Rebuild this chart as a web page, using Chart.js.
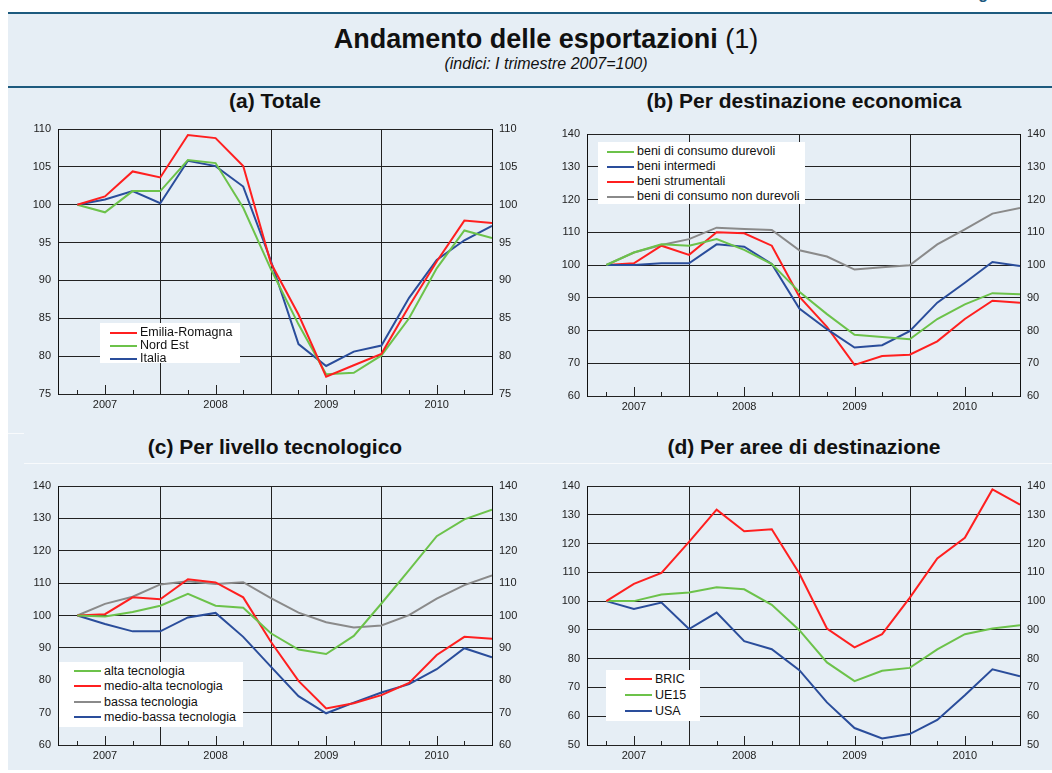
<!DOCTYPE html>
<html>
<head>
<meta charset="utf-8">
<script src="https://cdn.jsdelivr.net/npm/chart.js@4.4.1/dist/chart.umd.min.js"></script>
<style>
body { margin: 0; width: 1052px; height: 773px; background: #fff; position: relative; overflow: hidden;
       font-family: "Liberation Sans", Arial, sans-serif; color: #111; }
#bg { position: absolute; left: 8px; top: 14px; right: 0; bottom: 3px; background: #e6eef5; }
.rule { position: absolute; left: 8px; right: 0; height: 2px; background: #1d5a7e; }
.faint { position: absolute; height: 1px; background: rgba(255,255,255,0.7); }
#fig { position: absolute; left: 964px; top: -15px; font-weight: bold; font-size: 16px; line-height: 18px; color: #1d5a7e; }
#title { position: absolute; left: 40px; right: 0; top: 24px; text-align: center; font-size: 27px; font-weight: bold; }
#title span { font-weight: normal; }
#subtitle { position: absolute; left: 40px; right: 0; top: 55px; text-align: center; font-size: 16px; font-style: italic; }
.ptitle { position: absolute; width: 434px; text-align: center; font-size: 21px; font-weight: bold; }
canvas { position: absolute; }
.legend { position: absolute; background: #fff; font-size: 12.5px; line-height: 1; box-sizing: border-box; }
.legend div { display: flex; align-items: center; white-space: nowrap; }
.legend i { display: inline-block; width: 27px; height: 2px; margin-right: 3px; }
</style>
</head>
<body>
<div id="bg"></div>
<div id="fig">Figura</div>
<div class="rule" style="top:12px"></div>
<div class="rule" style="top:86px"></div>
<div id="title">Andamento delle esportazioni <span>(1)</span></div>
<div id="subtitle">(indici: I trimestre 2007=100)</div>
<div class="faint" style="left:8px;width:16px;top:433px"></div>
<div class="faint" style="left:24px;right:0;top:463px"></div>

<div class="ptitle" style="left:58px;top:89px">(a) Totale</div>
<div class="ptitle" style="left:587px;top:89px">(b) Per destinazione economica</div>
<div class="ptitle" style="left:58px;top:435px">(c) Per livello tecnologico</div>
<div class="ptitle" style="left:587px;top:435px">(d) Per aree di destinazione</div>

<canvas id="chartA" width="530" height="310" style="left:0;top:110px"></canvas>
<canvas id="chartB" width="522" height="310" style="left:530px;top:110px"></canvas>
<canvas id="chartC" width="530" height="313" style="left:0;top:460px"></canvas>
<canvas id="chartD" width="522" height="313" style="left:530px;top:460px"></canvas>

<div class="legend" id="legA" style="left:100px;top:323px;width:140px;height:40px;padding-left:10px;padding-top:3px"></div>
<div class="legend" id="legB" style="left:598px;top:142px;width:207px;height:62px;padding-left:9px;padding-top:2px"></div>
<div class="legend" id="legC" style="left:59px;top:662px;width:184px;height:65px;padding-left:15px;padding-top:1px"></div>
<div class="legend" id="legD" style="left:606px;top:670px;width:94px;height:51px;padding-left:19px;padding-top:1px"></div>

<script>
// quarters 2007 Q1 .. 2010 Q4
const quarters = ['2007 T1', '2007 T2', '2007 T3', '2007 T4',
                  '2008 T1', '2008 T2', '2008 T3', '2008 T4',
                  '2009 T1', '2009 T2', '2009 T3', '2009 T4',
                  '2010 T1', '2010 T2', '2010 T3', '2010 T4'];
const years = ['2007', '2008', '2009', '2010'];
const yearLabelPos = [1, 5, 9, 13];
const yearBreaks = [3, 7, 11];

// (a) Totale
const emiliaRomagna = [100, 101.1, 104.4, 103.6, 109.2, 108.8, 105.1, 92.3, 85.5, 77.3, 78.8, 80.3, 86.6, 92.5, 97.9, 97.6];
const nordEst       = [100, 99.0, 101.8, 101.8, 105.9, 105.5, 99.6, 91.5, 84.2, 77.6, 77.8, 80.1, 85.0, 91.6, 96.6, 95.6];
const italia        = [100, 100.7, 101.8, 100.2, 105.8, 105.1, 102.4, 92.6, 81.6, 78.7, 80.6, 81.4, 87.7, 92.7, 95.3, 97.2];

// (b) Per destinazione economica
const consumoDurevoli    = [100, 103.8, 106.3, 105.9, 107.9, 104.6, 100.3, 91.8, 85.0, 78.7, 78.0, 77.3, 83.5, 88.0, 91.4, 91.1];
const beniIntermedi      = [100, 100.0, 100.5, 100.5, 106.3, 105.6, 100.3, 86.7, 80.4, 74.8, 75.5, 79.8, 88.5, 94.6, 100.9, 99.7];
const beniStrumentali    = [100, 100.5, 105.9, 103.1, 110.0, 109.7, 105.9, 90.3, 81.1, 69.5, 72.2, 72.6, 76.7, 83.5, 89.1, 88.5];
const consumoNonDurevoli = [100, 103.8, 106.1, 107.9, 111.4, 111.0, 110.7, 104.5, 102.6, 98.6, 99.3, 99.9, 106.3, 110.9, 115.7, 117.4];

// (c) Per livello tecnologico
const altaTec       = [100, 99.7, 101.1, 103.0, 106.7, 103.0, 102.4, 94.5, 89.5, 88.1, 93.7, 103.7, 114.0, 124.5, 129.7, 132.7];
const medioAltaTec  = [100, 100.4, 105.6, 105.0, 111.2, 110.2, 105.6, 91.9, 79.8, 71.3, 72.9, 75.4, 79.2, 87.8, 93.4, 92.8];
const bassaTec      = [100, 103.6, 105.8, 109.6, 110.6, 109.7, 110.3, 105.4, 100.9, 97.9, 96.3, 96.9, 100.1, 105.2, 109.4, 112.4];
const medioBassaTec = [100, 97.4, 95.1, 95.1, 99.4, 100.8, 93.4, 84.2, 75.1, 69.8, 73.1, 76.2, 78.8, 83.4, 89.9, 87.1];

// (d) Per aree di destinazione
const bric = [100, 106.0, 109.8, 120.6, 131.8, 124.3, 125.0, 109.6, 90.5, 83.9, 88.5, 101.1, 114.8, 122.0, 138.8, 133.5];
const ue15 = [100, 100, 102.3, 103.0, 104.8, 104.1, 98.7, 89.9, 78.7, 72.2, 75.8, 76.8, 83.2, 88.5, 90.5, 91.6];
const usa  = [100, 97.3, 99.5, 90.3, 96.0, 86.1, 83.3, 76.0, 64.8, 55.9, 52.3, 53.8, 58.7, 67.3, 76.3, 73.9];

const RED = '#ff1f1f', GREEN = '#6cc24a', BLUE = '#2a4d9b', GRAY = '#8a8a8a';
const FONT = { family: '"Liberation Sans", Arial, sans-serif', size: 11 };

// year dividers and small quarter marks on the bottom axis
const quarterMarks = {
    id: 'quarterMarks',
    beforeDatasetsDraw(chart) {
        const { ctx, chartArea: a, scales: { x } } = chart;
        ctx.save();
        ctx.strokeStyle = '#222';
        ctx.lineWidth = 1;
        ctx.beginPath();
        yearBreaks.forEach(v => {
            const px = Math.round(x.getPixelForValue(v)) + 0.5;
            ctx.moveTo(px, a.top);
            ctx.lineTo(px, a.bottom);
        });
        quarters.forEach((q, i) => {
            if (yearBreaks.includes(i) || i === quarters.length - 1) return;
            const px = Math.round(x.getPixelForValue(i)) + 0.5;
            const len = yearLabelPos.includes(i) ? 9 : 4;
            ctx.moveTo(px, a.bottom);
            ctx.lineTo(px, a.bottom - len);
        });
        ctx.stroke();
        ctx.restore();
    }
};

function makeChart(id, series, yMin, yMax, step, g) {
    const yAxis = (pos) => ({
        type: 'linear', position: pos, min: yMin, max: yMax,
        ticks: { stepSize: step, color: '#222', font: FONT, padding: 7 },
        grid: { display: pos === 'left', color: '#222', lineWidth: 1, drawTicks: false },
        border: { display: true, color: '#111', width: 1 },
        afterFit: s => { s.width = pos === 'left' ? g.left : g.right; }
    });
    return new Chart(document.getElementById(id), {
        type: 'line',
        data: {
            datasets: series.map(s => ({
                label: s.label,
                data: s.values.map((v, i) => ({ x: i, y: v })),
                borderColor: s.color,
                borderWidth: 2,
                pointRadius: 0,
                tension: 0,
                fill: false
            }))
        },
        options: {
            responsive: false,
            animation: false,
            devicePixelRatio: 1,
            layout: { padding: { top: g.top, left: 0, right: 0, bottom: 0 } },
            plugins: { legend: { display: false }, tooltip: { enabled: false } },
            scales: {
                x: {
                    type: 'linear', min: -0.7, max: quarters.length - 1,
                    afterBuildTicks: s => { s.ticks = yearLabelPos.map(v => ({ value: v })); },
                    ticks: {
                        color: '#222', font: FONT, padding: 4, maxRotation: 0, autoSkip: false,
                        callback: v => years[yearLabelPos.indexOf(v)]
                    },
                    grid: { display: false, drawTicks: false },
                    border: { display: false },
                    afterFit: s => { s.height = g.bottom; }
                },
                y: yAxis('left'),
                y2: yAxis('right')
            }
        },
        plugins: [quarterMarks]
    });
}

function makeLegend(id, series, rowH) {
    document.getElementById(id).innerHTML = series.map(s =>
        `<div style="height:${rowH}px"><i style="background:${s.color}"></i>${s.label}</div>`).join('');
}

const seriesA = [
    { label: 'Emilia-Romagna', values: emiliaRomagna, color: RED },
    { label: 'Nord Est', values: nordEst, color: GREEN },
    { label: 'Italia', values: italia, color: BLUE }
];
const seriesB = [
    { label: 'beni di consumo durevoli', values: consumoDurevoli, color: GREEN },
    { label: 'beni intermedi', values: beniIntermedi, color: BLUE },
    { label: 'beni strumentali', values: beniStrumentali, color: RED },
    { label: 'beni di consumo non durevoli', values: consumoNonDurevoli, color: GRAY }
];
const seriesC = [
    { label: 'alta tecnologia', values: altaTec, color: GREEN },
    { label: 'medio-alta tecnologia', values: medioAltaTec, color: RED },
    { label: 'bassa tecnologia', values: bassaTec, color: GRAY },
    { label: 'medio-bassa tecnologia', values: medioBassaTec, color: BLUE }
];
const seriesD = [
    { label: 'BRIC', values: bric, color: RED },
    { label: 'UE15', values: ue15, color: GREEN },
    { label: 'USA', values: usa, color: BLUE }
];

makeChart('chartA', seriesA, 75, 110, 5, { left: 58, right: 38, top: 19, bottom: 26 });
makeChart('chartB', seriesB, 60, 140, 10, { left: 57, right: 32, top: 24, bottom: 24 });
makeChart('chartC', seriesC, 60, 140, 10, { left: 58, right: 38, top: 26, bottom: 28 });
makeChart('chartD', seriesD, 50, 140, 10, { left: 57, right: 32, top: 26, bottom: 28 });

makeLegend('legA', seriesA, 13);
makeLegend('legB', seriesB, 15);
makeLegend('legC', seriesC, 15.5);
makeLegend('legD', seriesD, 16);
</script>
</body>
</html>
